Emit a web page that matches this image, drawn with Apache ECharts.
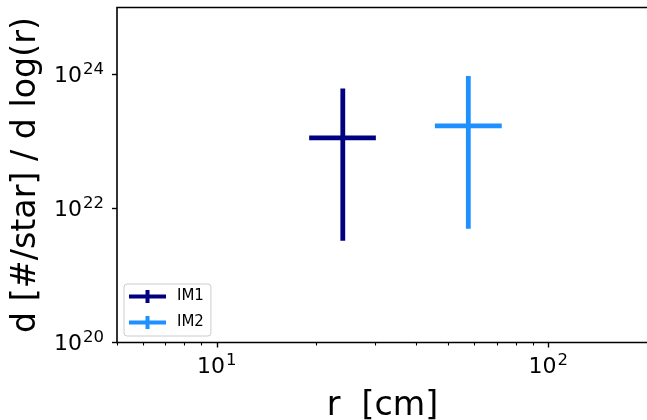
<!DOCTYPE html>
<html>
<head>
<meta charset="utf-8">
<script src="https://cdn.jsdelivr.net/npm/echarts@6/dist/echarts.min.js"></script>
<style>html,body{margin:0;padding:0;background:#fff;}#c{width:647px;height:420px;}</style>
</head>
<body>
<div id="c"></div>
<script>
// ---- data ----
const seriesNames = ['IM1', 'IM2'];
const rCenter = [24.0, 57.4];
const rLow = [19.0, 45.5];
const rHigh = [30.2, 72.4];
const valCenter = [1.13e23, 1.71e23];
const valLow = [3.3e21, 5.0e21];
const valHigh = [6.2e23, 9.5e23];
const xRange = [5, 200];
const yRange = [1e20, 1e25];
const xMajorTicks = [10, 100];
const xMinorTicks = [5, 6, 7, 8, 9, 20, 30, 40, 50, 60, 70, 80, 90, 200];
const yMajorTicks = [1e20, 1e22, 1e24];

const L = Math.log10;
const colors = ['#000080', '#1E90FF'];
const FONT = 'DejaVu Sans';

function supLabel(v) {
  return '{b|10}{s|' + Math.round(v) + '}';
}
const richLab = {
  b: { fontFamily: FONT, fontSize: 22, color: '#000', lineHeight: 26, verticalAlign: 'bottom' },
  s: { fontFamily: FONT, fontSize: 16.5, color: '#000', lineHeight: 26, verticalAlign: 'top', padding: [0, 0, 0, 1] }
};

const chart = echarts.init(document.getElementById('c'), null, { renderer: 'canvas' });

const series = seriesNames.map((name, i) => ({
  name: name,
  type: 'custom',
  xAxisIndex: 0,
  yAxisIndex: 0,
  itemStyle: { color: colors[i] },
  encode: { x: [0, 1, 2], y: [3, 4, 5] },
  data: [[L(rCenter[i]), L(rLow[i]), L(rHigh[i]), L(valCenter[i]), L(valLow[i]), L(valHigh[i])]],
  renderItem: function (params, api) {
    const left = api.coord([api.value(1), api.value(3)]);
    const right = api.coord([api.value(2), api.value(3)]);
    const bot = api.coord([api.value(0), api.value(4)]);
    const top = api.coord([api.value(0), api.value(5)]);
    const style = { stroke: colors[i], lineWidth: 4.8, fill: null };
    return {
      type: 'group',
      children: [
        { type: 'line', shape: { x1: left[0], y1: left[1], x2: right[0], y2: right[1] }, style: style },
        { type: 'line', shape: { x1: bot[0], y1: bot[1], x2: top[0], y2: top[1] }, style: style }
      ]
    };
  }
}));

const option = {
  animation: false,
  backgroundColor: '#fff',
  grid: {
    left: 117, top: 7.5, width: 531, height: 335,
    containLabel: false, outerBoundsMode: 'none',
    show: true, borderColor: '#000', borderWidth: 1.6, backgroundColor: 'transparent'
  },
  xAxis: [
    {
      type: 'value', min: L(xRange[0]), max: L(xRange[1]), position: 'bottom',
      axisLine: { show: false },
      splitLine: { show: false },
      axisTick: { show: true, length: 5, lineStyle: { color: '#000', width: 1.4 }, customValues: xMajorTicks.map(L) },
      axisLabel: { show: true, margin: 10, customValues: xMajorTicks.map(L), formatter: v => supLabel(v), rich: richLab },
      name: 'r  [cm]', nameLocation: 'middle', nameGap: 47,
      nameTextStyle: { fontFamily: FONT, fontSize: 33.3, color: '#000' }
    },
    {
      type: 'value', min: L(xRange[0]), max: L(xRange[1]), position: 'bottom',
      axisLine: { show: false },
      splitLine: { show: false },
      axisTick: { show: true, length: 3, lineStyle: { color: '#000', width: 1.1 }, customValues: xMinorTicks.map(L) },
      axisLabel: { show: false }
    }
  ],
  yAxis: [
    {
      type: 'value', min: L(yRange[0]), max: L(yRange[1]),
      axisLine: { show: false },
      splitLine: { show: false },
      axisTick: { show: true, length: 5, lineStyle: { color: '#000', width: 1.4 }, customValues: yMajorTicks.map(L) },
      axisLabel: { show: true, margin: 13, customValues: yMajorTicks.map(L), formatter: v => supLabel(v), rich: richLab },
      name: 'd [#/star] / d log(r)', nameLocation: 'middle', nameGap: 74,
      nameTextStyle: { fontFamily: FONT, fontSize: 33.3, color: '#000' }
    }
  ],
  legend: {
    orient: 'vertical',
    left: 124, top: 284,
    padding: [5, 7, 6, 5],
    itemWidth: 37, itemHeight: 13, itemGap: 11,
    borderColor: '#cccccc', borderWidth: 1, borderRadius: 3,
    backgroundColor: 'rgba(255,255,255,0.8)',
    icon: 'path://M0,4.5H37V8.5H0Z M16.5,0H20.5V13H16.5Z',
    textStyle: { fontFamily: FONT, fontSize: 15, color: '#000', padding: [0, 0, 0, 6] },
    data: seriesNames
  },
  series: series
};
chart.setOption(option);
</script>
</body>
</html>
